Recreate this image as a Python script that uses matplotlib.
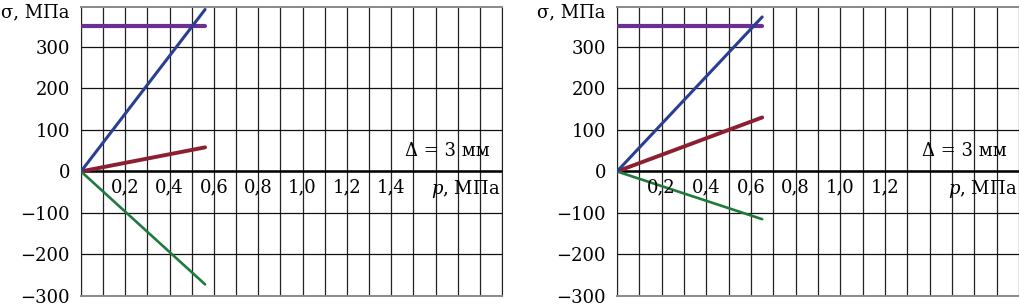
"""
Stresses vs pressure, two cases with gap 3 mm.
"""
import numpy as np
from matplotlib import pyplot

# left panel
p_left = [0.0, 0.56]
blue_left = [0, 390]
red_left = [0, 58]
green_left = [0, -272]
purple_left = [350, 350]

# right panel
p_right = [0.0, 0.65]
blue_right = [0, 372]
red_right = [0, 130]
green_right = [0, -115]
purple_right = [350, 350]

x_labels_left = ["0,2", "0,4", "0,6", "0,8", "1,0", "1,2", "1,4"]
x_labels_right = ["0,2", "0,4", "0,6", "0,8", "1,0", "1,2"]
y_ticks = [-300, -200, -100, 0, 100, 200, 300]
y_labels = ["\u2212300", "\u2212200", "\u2212100", "0", "100", "200", "300"]

BLUE = "#2b3f92"
RED = "#8c1f30"
GREEN = "#1f7a3e"
PURPLE = "#6a2f93"


def draw_panel(ax, p, blue, red, green, purple, xmax, x_labels):
    ax.set_xlim(0, xmax)
    ax.set_ylim(-300, 396)

    ax.set_xticks(np.arange(0, xmax + 1e-9, 0.1))
    ax.set_yticks(y_ticks)
    ax.set_yticklabels(y_labels)
    ax.tick_params(axis="x", length=0, labelbottom=False)
    ax.tick_params(axis="y", length=0, pad=8, labelsize=13)
    ax.grid(axis="x", color="#222222", lw=0.9)
    ax.grid(axis="y", color="#111111", lw=0.9)
    ax.set_axisbelow(True)

    for side in ("top", "bottom"):
        ax.spines[side].set_color("#8a8a8a")
        ax.spines[side].set_linewidth(1.4)
    ax.spines["left"].set_color("#222222")
    ax.spines["right"].set_color("#222222")
    ax.axhline(0, color="black", lw=1.8, zorder=2)

    ax.plot(p, purple, color=PURPLE, lw=3.0, solid_capstyle="round", zorder=3)
    ax.plot(p, blue, color=BLUE, lw=2.2, solid_capstyle="round", zorder=4)
    ax.plot(p, red, color=RED, lw=2.8, solid_capstyle="round", zorder=3)
    ax.plot(p, green, color=GREEN, lw=1.9, solid_capstyle="round", zorder=3)

    for i, lab in enumerate(x_labels):
        ax.annotate(lab, xy=(0.2 * (i + 1), 0), xytext=(0, -5),
                    textcoords="offset points", ha="center", va="top",
                    fontsize=13)

    ax.annotate("$p$, МПа", xy=(0.995, 0), xycoords=("axes fraction", "data"),
                xytext=(0, -5), textcoords="offset points",
                ha="right", va="top", fontsize=13)
    ax.annotate("Δ = 3 мм", xy=(0.97, 0), xycoords=("axes fraction", "data"),
                xytext=(0, 8), textcoords="offset points",
                ha="right", va="bottom", fontsize=13)
    ax.annotate("σ, МПа", xy=(0, 1), xycoords="axes fraction",
                xytext=(-8, -4), textcoords="offset points",
                ha="right", va="center", fontsize=13)


def main():
    pyplot.rcParams["font.family"] = ["DejaVu Serif"]
    pyplot.rcParams["mathtext.fontset"] = "dejavuserif"

    fig = pyplot.figure(figsize=(10.19, 3.04), dpi=100)
    ax1 = fig.add_axes([81 / 1019, 8 / 304, 421 / 1019, 289 / 304])
    ax2 = fig.add_axes([617 / 1019, 8 / 304, 402 / 1019, 289 / 304])

    draw_panel(ax1, p_left, blue_left, red_left, green_left, purple_left,
               1.9, x_labels_left)
    draw_panel(ax2, p_right, blue_right, red_right, green_right, purple_right,
               1.8, x_labels_right)
    ax2.spines["right"].set_visible(False)

    fig.savefig("out.png", dpi=100)
    pyplot.close(fig)


if __name__ == "__main__":
    main()
